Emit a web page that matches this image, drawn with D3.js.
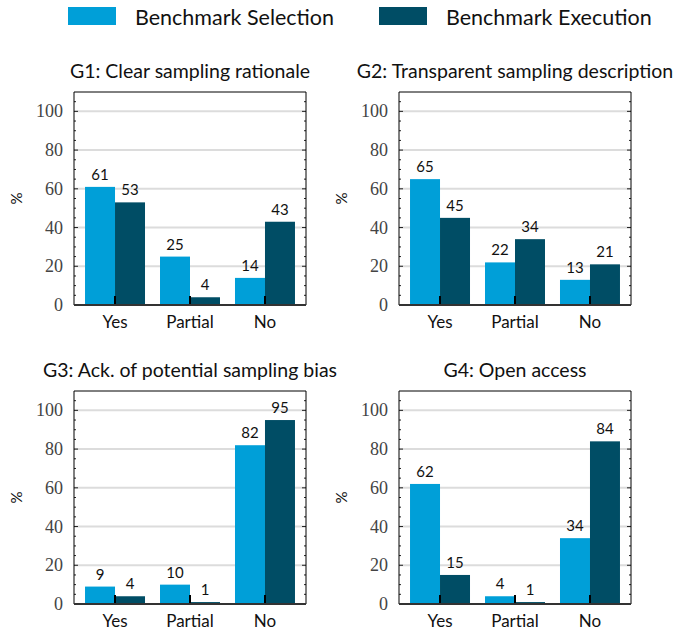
<!DOCTYPE html>
<html lang="en">
<head>
    <meta charset="UTF-8">
    <title>Sampling guidelines</title>
    <script src="https://d3js.org/d3.v7.min.js"></script>
    <style>
        body { margin: 0; background: #fff; }
        .sans { font-family: "Lato", "Noto Sans", sans-serif; fill: #111; }
        .serif { font-family: "Liberation Serif", "DejaVu Serif", serif; fill: #444; }
    </style>
</head>
<body>
    <svg class="chart" width="673" height="630"></svg>

    <script>
        const svg = d3.select('.chart')

        // data
        const categories = ['Yes', 'Partial', 'No'];
        const seriesNames = ['Benchmark Selection', 'Benchmark Execution'];
        const titles = [
            'G1: Clear sampling rationale',
            'G2: Transparent sampling description',
            'G3: Ack. of potential sampling bias',
            'G4: Open access'
        ];
        const selection = [[61, 25, 14], [65, 22, 13], [9, 10, 82], [62, 4, 34]];
        const execution = [[53, 4, 43], [45, 34, 21], [4, 1, 95], [15, 1, 84]];
        const yTicks = [0, 20, 40, 60, 80, 100];

        const colors = ['#009fd8', '#004d65'];

        // layout
        const colX = [74, 399];
        const rowY = [92, 391];
        const w = 232, h = 213;

        const yScale = d3.scaleLinear().domain([0, 110]).range([h, 0]);
        const xScale = d3.scaleBand().domain(categories).range([0, w])
            .paddingInner(0.2).paddingOuter(0.147);
        const sScale = d3.scaleBand().domain([0, 1]).range([0, xScale.bandwidth()]);

        // legend
        const legendX = [68, 379];
        seriesNames.forEach((name, i) => {
            svg.append('rect')
                .attr('x', legendX[i]).attr('y', 7)
                .attr('width', 48).attr('height', 18)
                .attr('fill', colors[i]);
            svg.append('text')
                .attr('class', 'sans')
                .attr('x', legendX[i] + 67).attr('y', 25)
                .style('font-size', '21.5px')
                .text(name);
        });

        titles.forEach((title, p) => {
            const x0 = colX[p % 2], y0 = rowY[Math.floor(p / 2)];
            const g = svg.append('g').attr('transform', `translate(${x0}, ${y0})`);

            // title
            g.append('text')
                .attr('class', 'sans')
                .attr('x', w / 2).attr('y', -14)
                .attr('text-anchor', 'middle')
                .style('font-size', '19.5px')
                .text(title);

            // y label
            g.append('text')
                .attr('class', 'sans')
                .attr('transform', `translate(${-52}, ${h / 2}) rotate(-90)`)
                .attr('text-anchor', 'middle')
                .style('font-size', '15px')
                .text('%');

            // grid lines
            g.selectAll('.grid').data(yTicks.slice(1)).join('line')
                .attr('x1', 0).attr('x2', w)
                .attr('y1', d => yScale(d)).attr('y2', d => yScale(d))
                .attr('stroke', '#dcdcdc').attr('stroke-width', 2);

            // minor + major ticks on both sides
            const minor = d3.range(5, 110, 5);
            [0, w].forEach(side => {
                const dir = side === 0 ? 1 : -1;
                g.selectAll(null).data(minor).join('line')
                    .attr('x1', side).attr('x2', d => side + dir * (d % 20 === 0 ? 4 : 2))
                    .attr('y1', d => yScale(d)).attr('y2', d => yScale(d))
                    .attr('stroke', '#222').attr('stroke-width', 1);
            });

            // y tick labels
            g.selectAll('.ylab').data(yTicks).join('text')
                .attr('class', 'serif')
                .style('font-family', '"Liberation Serif", "DejaVu Serif", serif')
                .attr('x', -11).attr('y', d => yScale(d) + 6)
                .attr('text-anchor', 'end')
                .style('font-size', '18px')
                .text(d => d);

            // bars
            const groups = g.selectAll('.grp').data(categories).join('g')
                .attr('transform', c => `translate(${xScale(c)}, 0)`);
            [selection[p], execution[p]].forEach((vals, s) => {
                groups.append('rect')
                    .attr('x', sScale(s))
                    .attr('width', sScale.bandwidth())
                    .attr('y', (c, i) => yScale(vals[i]))
                    .attr('height', (c, i) => h - yScale(vals[i]))
                    .attr('fill', colors[s]);
                groups.append('text')
                    .attr('class', 'sans')
                    .attr('x', sScale(s) + sScale.bandwidth() / 2)
                    .attr('y', (c, i) => yScale(vals[i]) - 7)
                    .attr('text-anchor', 'middle')
                    .style('font-size', '15px')
                    .text((c, i) => vals[i]);
            });

            // x ticks at category centres
            g.selectAll('.xt').data(categories).join('line')
                .attr('x1', c => xScale(c) + xScale.bandwidth() / 2)
                .attr('x2', c => xScale(c) + xScale.bandwidth() / 2)
                .attr('y1', h).attr('y2', h - 9)
                .attr('stroke', '#000').attr('stroke-width', 2);

            // x labels
            g.selectAll('.xl').data(categories).join('text')
                .attr('class', 'sans')
                .attr('x', c => xScale(c) + xScale.bandwidth() / 2)
                .attr('y', h + 23)
                .attr('text-anchor', 'middle')
                .style('font-size', '17px')
                .text(c => c);

            // frame
            g.append('path')
                .attr('d', `M0,${h}V0H${w}V${h}`)
                .attr('fill', 'none').attr('stroke', '#000').attr('stroke-width', 1);
            g.append('line')
                .attr('x1', 0).attr('x2', w).attr('y1', h).attr('y2', h)
                .attr('stroke', '#333').attr('stroke-width', 2);
        });
    </script>
</body>
</html>
